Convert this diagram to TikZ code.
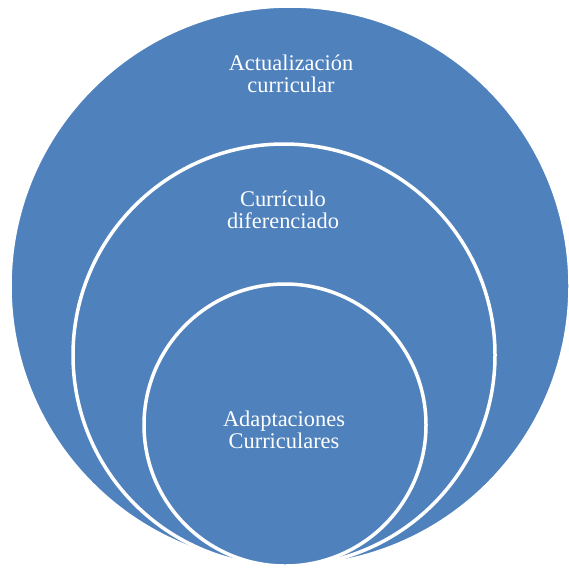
\documentclass[tikz,border=0pt]{standalone}
\usepackage{fontspec}
\setmainfont{Liberation Serif}
\usepackage{tikz}
\usetikzlibrary{positioning,calc}
\definecolor{ringblue}{HTML}{4F81BD}

\begin{document}
\begin{tikzpicture}[x=1pt, y=-1pt,
  ring/.style={circle, fill=ringblue, draw=white, line width=3.5pt, inner sep=0pt},
  ring text/.style={text=white, align=center, font=\fontsize{22.4}{22.5}\selectfont}]

\useasboundingbox (0,0) rectangle (569,568);

% stacked circles, largest first
\foreach \n/\x/\y/\r in {outer/290/286/280, middle/284/355/211, inner/285/425/141}
  \node [ring, minimum size={2*\r pt}] (\n) at (\x,\y) {};

% labels
\node [ring text] (outer-text) at (291,74) {Actualización\\curricular};
\node [ring text] (middle-text) at (283,210) {Currículo\\diferenciado};
\node [ring text] (inner-text) at (284,430) {Adaptaciones\\Curriculares};

\end{tikzpicture}
\end{document}
